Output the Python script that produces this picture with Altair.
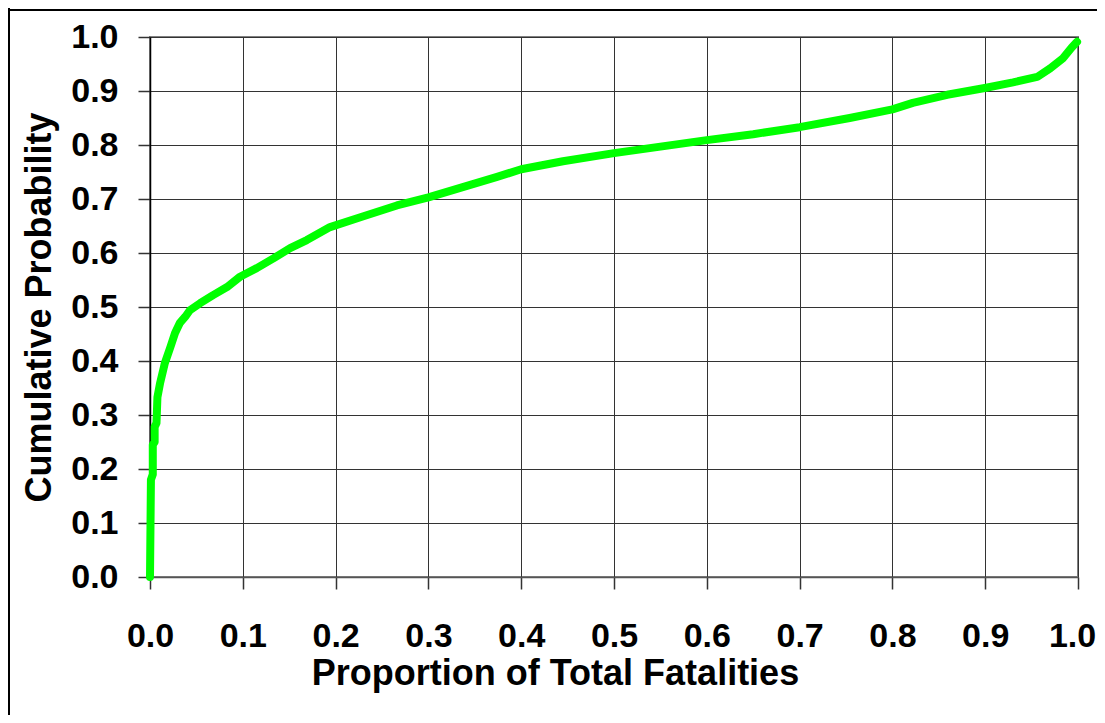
import altair as alt
import pandas as pd

proportion = [0.0, 0.001, 0.003, 0.003, 0.005, 0.005, 0.007, 0.008, 0.011, 0.016,
              0.022, 0.027, 0.032, 0.038, 0.043, 0.054, 0.068, 0.083, 0.097, 0.115,
              0.133, 0.151, 0.169, 0.194, 0.23, 0.266, 0.30, 0.337, 0.374, 0.40,
              0.445, 0.50, 0.55, 0.60, 0.65, 0.70, 0.754, 0.80, 0.822, 0.859,
              0.901, 0.93, 0.956, 0.97, 0.984, 0.993, 0.999]
cum_prob = [0.0, 0.18, 0.19, 0.245, 0.25, 0.278, 0.285, 0.333, 0.36, 0.396,
            0.426, 0.452, 0.47, 0.482, 0.494, 0.507, 0.522, 0.537, 0.556, 0.572,
            0.59, 0.609, 0.624, 0.648, 0.668, 0.688, 0.703, 0.722, 0.741, 0.755,
            0.77, 0.785, 0.797, 0.809, 0.82, 0.833, 0.85, 0.866, 0.878, 0.893,
            0.906, 0.916, 0.926, 0.942, 0.961, 0.98, 0.991]

tick_values = [0.0, 0.1, 0.2, 0.3, 0.4, 0.5, 0.6, 0.7, 0.8, 0.9, 1.0]

df = pd.DataFrame({"x": proportion, "y": cum_prob, "order": list(range(len(proportion)))})

FONT = "Liberation Sans"

common_axis = dict(
    grid=True, gridColor="#333333", gridWidth=1, gridOpacity=1,
    tickColor="#333333", tickWidth=1.5, tickSize=12,
    labelFont=FONT, labelFontSize=34, labelFontWeight="bold", labelColor="black",
    labelFlush=False, labelOverlap=False,
    titleFont=FONT, titleFontSize=36, titleFontWeight="bold", titleColor="black",
    values=tick_values, format=".1f", domainWidth=1.5,
)

line = alt.Chart(df).mark_line(color="#00FF00", strokeWidth=8, strokeCap="round",
                               strokeJoin="round").encode(
    x=alt.X("x:Q", scale=alt.Scale(domain=[0, 1], nice=False, zero=False),
            axis=alt.Axis(title="Proportion of Total Fatalities",
                          titleX=405, titleY=107, titleAnchor="middle",
                          titleAlign="center", titleBaseline="alphabetic",
                          labelPadding=30, domainColor="#555555",
                          labelOffset={"condition": {"test": "datum.value >= 1", "value": -6},
                                       "value": 0},
                          **common_axis)),
    y=alt.Y("y:Q", scale=alt.Scale(domain=[0, 1], nice=False, zero=False),
            axis=alt.Axis(title="Cumulative Probability",
                          titleX=-100, titleY=270, titleAngle=270,
                          titleAlign="center", titleBaseline="alphabetic",
                          labelPadding=20, domainColor="#000000", **common_axis)),
    order="order:Q",
)

frame_top = alt.Chart(df).mark_rule(color="black", strokeWidth=2).encode(
    x=alt.value(-142), x2=alt.value(960), y=alt.value(-27))
frame_left = alt.Chart(df).mark_rule(color="black", strokeWidth=2).encode(
    x=alt.value(-141), y=alt.value(-29), y2=alt.value(700))

chart = alt.layer(line, frame_top, frame_left).properties(
    width=928, height=540,
    background="white",
    autosize=alt.AutoSizeParams(type="none"),
    padding={"left": 142, "top": 29, "right": 19, "bottom": 138},
).configure_view(
    stroke="#808080", strokeWidth=2
)

chart.save("out.html", embed_options={"renderer": "svg", "actions": False})
